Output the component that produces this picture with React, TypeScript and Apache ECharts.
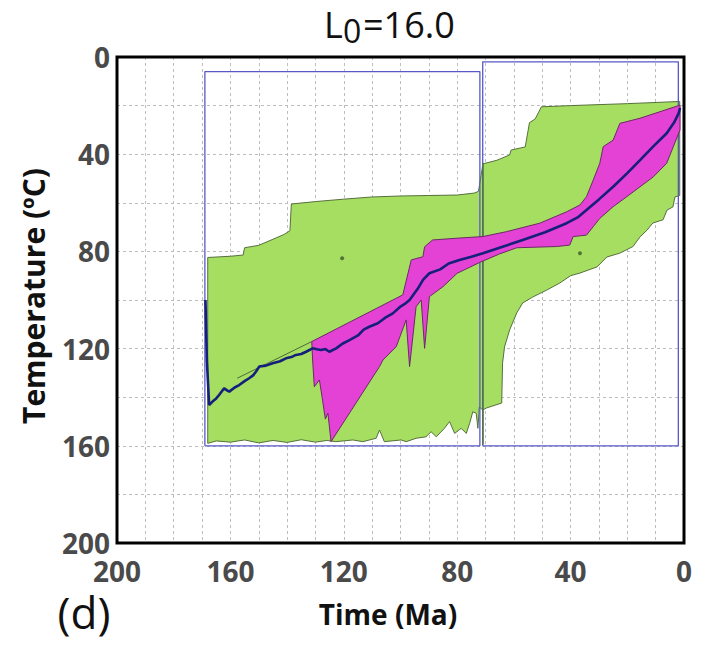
import React, { useEffect, useRef } from "react";
import * as echarts from "echarts";

// ---- data (time in Ma, temperature in °C) ----
const titleMain = "L";
const titleSub = "0";
const titleRest = "=16.0";
const xAxisTitle = "Time (Ma)";
const yAxisTitle = "Temperature (ºC)";
const panelLabel = "(d)";

// acceptable-fit envelope (green)
const greenEnvelope: [number, number][] = [
  [168, 159], [168, 82.5], [160, 82], [155.5, 81.5], [155, 78.5], [150, 77.5], [145, 75],
  [141, 73], [139, 71.5], [138.5, 60.5], [130, 59.5], [120, 58.5], [110, 57.6], [100, 57.2],
  [90, 57], [80, 56.8], [74, 56], [72.5, 55.3], [71.2, 46], [71, 44], [66, 42.5], [61.5, 40.3],
  [61, 38.3], [56, 37], [54.5, 27], [52.5, 25.5], [50.3, 20.5], [40, 20], [20, 19.2], [1.5, 18.3],
  [1.5, 57], [3.2, 57.6], [3.9, 61.7], [6, 63], [7.4, 67], [11, 68.3], [13, 71.2], [15.5, 74],
  [18, 78], [22.6, 80.7], [27.2, 82.3], [30.7, 86.4], [36.7, 88.9], [40, 90], [43.8, 93],
  [48.4, 95.9], [53.4, 98.8], [56.9, 101.2], [59, 105.3], [61.5, 112.3], [63.3, 119.3], [64, 126],
  [64.3, 142.4], [69.6, 144.4], [71, 145.3], [72.2, 144], [72.7, 152.8], [73.3, 146.6],
  [74.5, 146], [75.6, 150.7], [76.8, 154.9], [78.6, 152.8], [80.9, 154.9], [82.7, 150],
  [84.5, 152.8], [87.4, 156.3], [89.2, 154.2], [91, 156.3], [94.5, 156.9], [98, 158.3],
  [99.8, 157.6], [105.7, 158.3], [107.4, 153.5], [108.6, 156.9], [113.3, 158.3], [116.8, 157.6],
  [122.8, 158.3], [126, 157.8], [130, 158.5], [135, 157.5], [140, 158.6], [145, 157.8],
  [150, 158.8], [155, 157.6], [160, 158.5], [165, 158],
];

// good-fit envelope (magenta)
const pinkEnvelope: [number, number][] = [
  [131.3, 117.1], [99.2, 97.9], [96.2, 83.5], [92.1, 82.2], [91.5, 78.1], [88.7, 75.3],
  [79.2, 74.5], [70.9, 73.9], [62.7, 71.9], [50.9, 68.4], [41.4, 63.7], [36.7, 60.9],
  [34.4, 57.5], [32, 50.6], [29.7, 43.7], [28.5, 36.9], [25, 34.2], [22.6, 27.3], [15.5, 25.2],
  [1.4, 19.8], [1.4, 30], [6.1, 43.7], [10.8, 49.3], [15.5, 53.4], [20.2, 57.5], [25, 61.6],
  [29.7, 66.4], [32, 69.8], [34.4, 73.3], [39.1, 73.9], [40.3, 77.4], [45, 78], [59, 78.5],
  [65, 81], [72, 84.5], [80, 89], [85, 94.5], [89.8, 98.6], [91.5, 119.9], [92.7, 100],
  [94.5, 102.8], [96.8, 127.4], [98, 108.2], [101.5, 119.2], [102.7, 120.6], [106.2, 124.7],
  [107.4, 127.4], [124.5, 158.3], [125.6, 146.6], [126.5, 149], [127.5, 141.2], [128.6, 132.9],
  [130.4, 135.7], [131, 124.7],
];

// weighted mean path (blue)
const meanPath: [number, number][] = [
  [168.8, 100], [168.3, 125], [167.5, 143.2], [166.3, 141.8], [165, 140.5], [164, 139.1],
  [162.2, 136.3], [161.2, 137.2], [160.4, 137.7], [158.5, 136], [156.9, 135], [155, 133.4],
  [153.4, 132.2], [152, 131], [151, 129.5], [149.8, 127.4], [147.5, 127], [145.1, 126],
  [142.5, 125.2], [140.4, 124], [138.5, 123.5], [136.9, 122.6], [135, 122.2], [133.3, 121.3],
  [131, 119.9], [129.5, 120.3], [128, 120.6], [126.5, 120.2], [125.1, 121.3], [122.7, 119.9],
  [120.5, 118], [118, 116.5], [115, 114.6], [113, 112.2], [111, 111], [108, 109.6],
  [105.5, 107.4], [102.7, 105.5], [100, 102.7], [98.5, 101.6], [96.8, 100], [94, 95.5],
  [92, 91.6], [89.8, 89], [86, 87.4], [83, 85], [79.2, 83.5], [75, 82.2], [70.9, 80.8],
  [64, 78.1], [56.9, 75.3], [49, 72.1], [41.4, 68.4], [37.5, 66], [34.4, 63], [30, 58.6],
  [25, 53.4], [20, 47.8], [15.5, 42.4], [11, 37], [6.1, 31.4], [3.5, 27], [1.9, 23.2], [1.4, 21],
];

// thin reference segment
const thinSegment: [number, number][] = [[157.6, 132.2], [131.3, 117.1]];

// constraint boxes
const box1: [number, number][] = [[169, 160], [169, 6], [72, 6], [72, 160], [169, 160]];
const box2: [number, number][] = [[71, 160], [71, 2], [2, 2], [2, 160], [71, 160]];
const boxEdge: [number, number][] = [[70.9, 43.7], [70.9, 159.5]];
const boxCentres: [number, number][] = [[120.6, 82.8], [36.7, 80.8]];

const FONT = "Open Sans";
const GRID = { left: 117, right: 26, top: 57, bottom: 104 };
const W = 710;
const H = 647;

function polygonSeries(pts: [number, number][], fill: string, stroke: string, z: number) {
  return {
    type: "custom",
    z,
    data: pts,
    encode: { x: 0, y: 1 },
    clip: true,
    silent: true,
    renderItem: (params: any, api: any) => {
      if (params.dataIndex !== 0) return { type: "group", children: [] };
      const points = pts.map((p) => api.coord(p));
      return {
        type: "polygon",
        shape: { points },
        style: { fill, stroke, lineWidth: 1 },
      };
    },
  };
}

function lineSeries(pts: [number, number][], color: string, width: number, z: number) {
  return {
    type: "line",
    z,
    data: pts,
    symbol: "none",
    showSymbol: false,
    silent: true,
    lineStyle: { color, width },
  };
}

export default function App() {
  const ref = useRef<HTMLDivElement>(null);
  useEffect(() => {
    if (!ref.current) return;
    const chart = echarts.init(ref.current, null, { renderer: "svg" });
    const gridLine = { show: true, lineStyle: { color: "#bdbdbd", width: 1, type: [3, 3] as any } };
    chart.setOption({
      animation: false,
      backgroundColor: "#ffffff",
      grid: { ...GRID, show: false },
      xAxis: {
        type: "value", min: 0, max: 200, interval: 40, inverse: true,
        axisLine: { show: false }, axisTick: { show: false },
        minorTick: { show: false, splitNumber: 4 },
        splitLine: gridLine, minorSplitLine: gridLine,
        axisLabel: { fontFamily: FONT, fontWeight: "bold", fontSize: 28, color: "#4a4a4a", margin: 15, lineHeight: 26 },
      },
      yAxis: {
        type: "value", min: 0, max: 200, interval: 40, inverse: true,
        axisLine: { show: false }, axisTick: { show: false },
        minorTick: { show: false, splitNumber: 2 },
        splitLine: gridLine, minorSplitLine: gridLine,
        axisLabel: { fontFamily: FONT, fontWeight: "bold", fontSize: 28, color: "#4a4a4a", margin: 7, lineHeight: 16 },
      },
      graphic: [
        {
          type: "rect", z: 100, silent: true,
          shape: { x: GRID.left, y: GRID.top, width: W - GRID.left - GRID.right, height: H - GRID.top - GRID.bottom },
          style: { fill: "none", stroke: "#000", lineWidth: 3 },
        },
        { type: "text", left: 324, top: 6, style: { text: titleMain, fontFamily: FONT, fontSize: 36, fill: "#111" } },
        { type: "text", left: 343, top: 14, style: { text: titleSub, fontFamily: FONT, fontSize: 32, fill: "#111" } },
        { type: "text", left: 363, top: 6, style: { text: titleRest, fontFamily: FONT, fontSize: 36, fill: "#111" } },
        { type: "text", x: 388, y: 614, style: { text: xAxisTitle, fontFamily: FONT, fontWeight: "bold", fontSize: 28, fill: "#111", align: "center", verticalAlign: "middle" } },
        { type: "text", x: 33, y: 296, rotation: Math.PI / 2, style: { text: yAxisTitle, fontFamily: FONT, fontWeight: "bold", fontSize: 30, fill: "#111", align: "center", verticalAlign: "middle" } },
        { type: "text", x: 84, y: 612, style: { text: panelLabel, fontFamily: FONT, fontSize: 44, lineHeight: 44, fill: "#111", align: "center", verticalAlign: "middle" } },
      ],
      series: [
        polygonSeries(greenEnvelope, "#a6de62", "#56703c", 1),
        lineSeries(box1, "#5858c8", 1.3, 2),
        lineSeries(box2, "#5858c8", 1.3, 2),
        lineSeries(boxEdge, "#4f7a3a", 1.5, 3),
        polygonSeries(pinkEnvelope, "#e442d4", "#6a2a66", 4),
        lineSeries(thinSegment, "#4e6a34", 1, 5),
        lineSeries(meanPath, "#14207a", 2.6, 6),
        {
          type: "scatter", z: 7, data: boxCentres, symbolSize: 4, silent: true,
          itemStyle: { color: "#3d5a2a" },
        },
      ],
    });
    return () => chart.dispose();
  }, []);
  return (
    <div
      ref={ref}
      style={{ position: "fixed", left: 0, top: 0, width: W, height: H, background: "#fff" }}
    />
  );
}
